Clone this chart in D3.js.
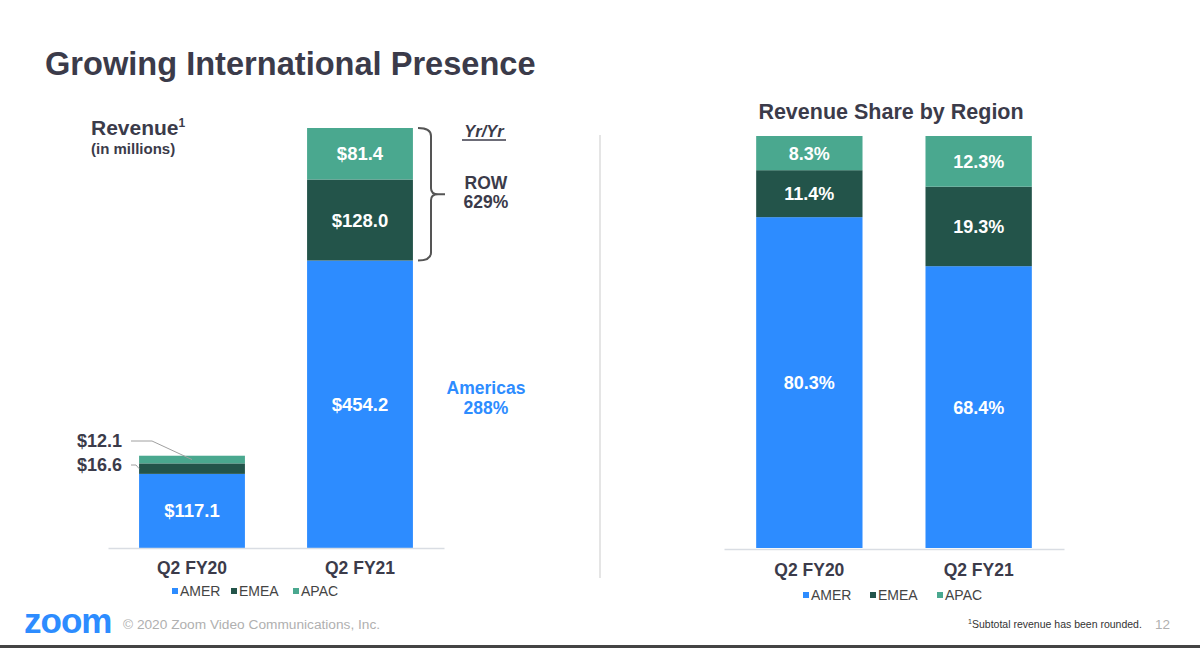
<!DOCTYPE html>
<html><head><meta charset="utf-8">
<script src="https://cdn.jsdelivr.net/npm/d3@7"></script>
<style>body{margin:0;background:#fff;}svg{display:block;font-family:Arial,"Liberation Sans",sans-serif;}</style>
</head><body>
<svg id="c" width="1200" height="648"></svg>
<script>
const categories = ["Q2 FY20", "Q2 FY21"];
const regions = ["AMER", "EMEA", "APAC"];
const revenueAMER = [117.1, 454.2];
const revenueEMEA = [16.6, 128.0];
const revenueAPAC = [12.1, 81.4];
const shareAMER = [80.3, 68.4];
const shareEMEA = [11.4, 19.3];
const shareAPAC = [8.3, 12.3];
const colors = {AMER: "#2d8cff", EMEA: "#23544a", APAC: "#4aa88f"};

const svg = d3.select("#c");
const txt = "#3b3b4a";

svg.append("text").attr("x", 45).attr("y", 75).attr("font-size", 32.6).attr("font-weight", "bold").attr("fill", txt).text("Growing International Presence");

// ---------- Left chart ----------
const revRows = categories.map((c, i) => ({cat: c, AMER: revenueAMER[i], EMEA: revenueEMEA[i], APAC: revenueAPAC[i]}));
const revStack = d3.stack().keys(regions)(revRows);
const xL = d3.scaleBand().domain(categories).range([108, 444]).paddingInner(0.37).paddingOuter(0.185);
const yL = d3.scaleLinear().domain([0, d3.max(revRows, d => d.AMER + d.EMEA + d.APAC)]).range([548, 128]);

revStack.forEach(layer => {
  svg.append("g").selectAll("rect").data(layer).join("rect")
    .attr("x", d => xL(d.data.cat)).attr("width", xL.bandwidth())
    .attr("y", d => yL(d[1])).attr("height", d => yL(d[0]) - yL(d[1]))
    .attr("fill", colors[layer.key]);
});
const axL = svg.append("g").attr("transform", "translate(0,548)").call(d3.axisBottom(xL).tickSize(0).tickPadding(14));
axL.select(".domain").attr("stroke", "#d9dde3").attr("stroke-width", 1.5);
axL.selectAll("text").attr("font-size", 17.5).attr("font-weight", "bold").attr("fill", txt).attr("font-family", "Arial, Liberation Sans, sans-serif");

revStack.forEach(layer => {
  layer.forEach((d, i) => {
    if (i === 0 && layer.key !== "AMER") return;
    svg.append("text").attr("x", xL(d.data.cat) + xL.bandwidth() / 2).attr("y", (yL(d[0]) + yL(d[1])) / 2 + 6.5)
      .attr("text-anchor", "middle").attr("font-size", 18.5).attr("font-weight", "bold").attr("fill", "#fff")
      .text("$" + d3.format(".1f")(d.data[layer.key]));
  });
});
const apac0 = revStack[2][0], emea0 = revStack[1][0];
svg.append("text").attr("x", 122).attr("y", 447).attr("text-anchor", "end").attr("font-size", 18).attr("font-weight", "bold").attr("fill", txt).text("$" + revenueAPAC[0].toFixed(1));
svg.append("text").attr("x", 122).attr("y", 471).attr("text-anchor", "end").attr("font-size", 18).attr("font-weight", "bold").attr("fill", txt).text("$" + revenueEMEA[0].toFixed(1));
svg.append("path").attr("d", `M131,441 L152,441 L192,${(yL(apac0[0]) + yL(apac0[1])) / 2}`).attr("fill", "none").attr("stroke", "#a0a0a0").attr("stroke-width", 1);
svg.append("path").attr("d", `M131,465 L136,465 L${xL(categories[0])},${(yL(emea0[0]) + yL(emea0[1])) / 2}`).attr("fill", "none").attr("stroke", "#a0a0a0").attr("stroke-width", 1);

svg.append("text").attr("x", 91).attr("y", 135).attr("font-size", 21).attr("font-weight", "bold").attr("fill", txt)
  .text("Revenue").append("tspan").attr("font-size", 12).attr("dy", -8).text("1");
svg.append("text").attr("x", 91).attr("y", 154).attr("font-size", 15).attr("font-weight", "bold").attr("fill", txt).text("(in millions)");

// bracket
const bTop = yL(revStack[2][1][1]), bBot = yL(revStack[1][1][0]), bMid = (bTop + bBot) / 2;
svg.append("path").attr("d", `M418,${bTop} Q431,${bTop} 431,${bTop + 8} L431,${bMid - 6} Q431,${bMid} 438,${bMid} L445,${bMid} M438,${bMid} Q431,${bMid} 431,${bMid + 6} L431,${bBot - 8} Q431,${bBot} 418,${bBot}`)
  .attr("fill", "none").attr("stroke", "#555").attr("stroke-width", 2);
svg.append("text").attr("x", 484).attr("y", 137).attr("text-anchor", "middle").attr("font-size", 16.5).attr("font-weight", "bold").attr("font-style", "italic").attr("fill", txt).text("Yr/Yr");
svg.append("line").attr("x1", 462).attr("x2", 506).attr("y1", 140).attr("y2", 140).attr("stroke", txt).attr("stroke-width", 1.4);
svg.append("text").attr("x", 486).attr("y", 189).attr("text-anchor", "middle").attr("font-size", 17.5).attr("font-weight", "bold").attr("fill", txt).text("ROW");
svg.append("text").attr("x", 486).attr("y", 208).attr("text-anchor", "middle").attr("font-size", 17.5).attr("font-weight", "bold").attr("fill", txt).text("629%");
svg.append("text").attr("x", 486).attr("y", 394).attr("text-anchor", "middle").attr("font-size", 17.5).attr("font-weight", "bold").attr("fill", colors.AMER).text("Americas");
svg.append("text").attr("x", 486).attr("y", 414).attr("text-anchor", "middle").attr("font-size", 17.5).attr("font-weight", "bold").attr("fill", colors.AMER).text("288%");

function legend(x0, y0, gaps) {
  regions.forEach((r, i) => {
    const g = svg.append("g").attr("transform", `translate(${x0 + gaps[i]},${y0})`);
    g.append("rect").attr("x", 0).attr("y", -8).attr("width", 6).attr("height", 6).attr("fill", colors[r]);
    g.append("text").attr("x", 8).attr("y", 0).attr("font-size", 14).attr("fill", "#444").text(r);
  });
}
legend(172, 596, [0, 59, 121]);

svg.append("line").attr("x1", 600).attr("x2", 600).attr("y1", 135).attr("y2", 578).attr("stroke", "#dcdcdc").attr("stroke-width", 1.5);

// ---------- Right chart ----------
const shRows = categories.map((c, i) => ({cat: c, AMER: shareAMER[i], EMEA: shareEMEA[i], APAC: shareAPAC[i]}));
const shStack = d3.stack().keys(regions)(shRows);
const xR = d3.scaleBand().domain(categories).range([724, 1064]).paddingInner(0.372).paddingOuter(0.19);
const yR = d3.scaleLinear().domain([0, 100]).range([548, 136]);
shStack.forEach(layer => {
  svg.append("g").selectAll("rect").data(layer).join("rect")
    .attr("x", d => xR(d.data.cat)).attr("width", xR.bandwidth())
    .attr("y", d => yR(d[1])).attr("height", d => yR(d[0]) - yR(d[1]))
    .attr("fill", colors[layer.key]);
  svg.append("g").selectAll("text").data(layer).join("text")
    .attr("x", d => xR(d.data.cat) + xR.bandwidth() / 2).attr("y", d => (yR(d[0]) + yR(d[1])) / 2 + 6.5)
    .attr("text-anchor", "middle").attr("font-size", 18).attr("font-weight", "bold").attr("fill", "#fff")
    .text(d => d.data[layer.key].toFixed(1) + "%");
});
const axR = svg.append("g").attr("transform", "translate(0,549)").call(d3.axisBottom(xR).tickSize(0).tickPadding(15));
axR.select(".domain").attr("stroke", "#d9dde3").attr("stroke-width", 1.5);
axR.selectAll("text").attr("font-size", 17.5).attr("font-weight", "bold").attr("fill", txt).attr("font-family", "Arial, Liberation Sans, sans-serif");
svg.append("text").attr("x", 891).attr("y", 119).attr("text-anchor", "middle").attr("font-size", 21.5).attr("font-weight", "bold").attr("fill", txt).text("Revenue Share by Region");
legend(803, 600, [0, 67, 134]);

// ---------- Footer ----------
svg.append("text").attr("x", 24).attr("y", 633).attr("font-size", 35).attr("font-weight", "bold").attr("fill", colors.AMER).attr("letter-spacing", -1).text("zoom");
svg.append("text").attr("x", 123).attr("y", 629).attr("font-size", 13.7).attr("fill", "#b0b0b0").text("© 2020 Zoom Video Communications, Inc.");
svg.append("text").attr("x", 968).attr("y", 624).attr("font-size", 7).attr("fill", "#333").text("1");
svg.append("text").attr("x", 972).attr("y", 628).attr("font-size", 10.5).attr("fill", "#333").text("Subtotal revenue has been rounded.");
svg.append("text").attr("x", 1155).attr("y", 629).attr("font-size", 13.5).attr("fill", "#b0b0b0").text("12");
svg.append("rect").attr("x", 0).attr("y", 645).attr("width", 1200).attr("height", 3).attr("fill", "#444");
</script>
</body></html>
